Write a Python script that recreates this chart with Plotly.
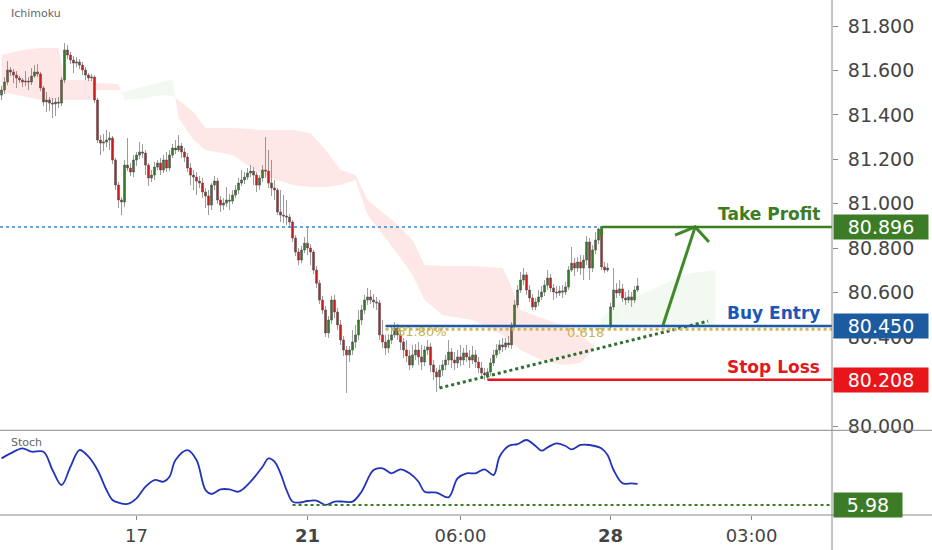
import plotly.graph_objects as go

# one candle per bar, oldest first
opens = [81.489, 81.512, 81.548, 81.602, 81.593, 81.579, 81.566, 81.557, 81.548, 81.552,
         81.548, 81.575, 81.593, 81.584, 81.521, 81.458, 81.467, 81.453, 81.449, 81.458,
         81.453, 81.557, 81.692, 81.669, 81.647, 81.633, 81.638, 81.624, 81.602, 81.579,
         81.566, 81.570, 81.467, 81.287, 81.273, 81.278, 81.287, 81.296, 81.197, 81.084,
         81.017, 81.008, 81.174, 81.161, 81.143, 81.197, 81.219, 81.233, 81.228, 81.174,
         81.116, 81.129, 81.165, 81.183, 81.152, 81.197, 81.161, 81.219, 81.251, 81.242,
         81.260, 81.233, 81.210, 81.161, 81.129, 81.120, 81.102, 81.093, 81.053, 81.035,
         80.994, 81.084, 81.102, 81.017, 80.994, 81.003, 81.017, 81.012, 81.039, 81.062,
         81.093, 81.107, 81.120, 81.138, 81.147, 81.129, 81.084, 81.116, 81.152, 81.147,
         81.093, 81.071, 81.062, 80.963, 80.949, 80.945, 80.940, 80.918, 80.846, 80.783,
         80.747, 80.792, 80.823, 80.801, 80.783, 80.702, 80.643, 80.567, 80.522, 80.419,
         80.477, 80.567, 80.513, 80.455, 80.387, 80.342, 80.320, 80.342, 80.378, 80.410,
         80.477, 80.522, 80.567, 80.581, 80.567, 80.558, 80.554, 80.410, 80.378, 80.351,
         80.387, 80.410, 80.441, 80.410, 80.378, 80.342, 80.315, 80.275, 80.320, 80.342,
         80.311, 80.288, 80.342, 80.356, 80.275, 80.243, 80.221, 80.252, 80.275, 80.297,
         80.333, 80.297, 80.284, 80.311, 80.297, 80.329, 80.311, 80.297, 80.320, 80.288,
         80.261, 80.239, 80.230, 80.243, 80.284, 80.320, 80.342, 80.365, 80.356, 80.374,
         80.365, 80.455, 80.545, 80.612, 80.657, 80.680, 80.612, 80.576, 80.536, 80.558,
         80.581, 80.603, 80.634, 80.666, 80.621, 80.603, 80.599, 80.608, 80.603, 80.626,
         80.702, 80.733, 80.711, 80.738, 80.711, 80.747, 80.828, 80.711, 80.792, 80.837,
         80.886, 80.716, 80.702, 80.446, 80.536, 80.612, 80.599, 80.617, 80.576, 80.567,
         80.581, 80.567, 80.612]
highs = [81.530, 81.570, 81.642, 81.615, 81.606, 81.597, 81.575, 81.566, 81.597, 81.570,
         81.611, 81.624, 81.629, 81.593, 81.530, 81.503, 81.480, 81.476, 81.476, 81.480,
         81.570, 81.723, 81.714, 81.683, 81.665, 81.660, 81.651, 81.638, 81.615, 81.588,
         81.584, 81.579, 81.476, 81.309, 81.314, 81.332, 81.323, 81.305, 81.206, 81.098,
         81.030, 81.197, 81.296, 81.183, 81.219, 81.233, 81.278, 81.269, 81.242, 81.183,
         81.152, 81.188, 81.197, 81.206, 81.219, 81.233, 81.242, 81.269, 81.287, 81.309,
         81.273, 81.251, 81.228, 81.183, 81.152, 81.143, 81.125, 81.116, 81.071, 81.062,
         81.093, 81.125, 81.116, 81.035, 81.026, 81.075, 81.044, 81.062, 81.084, 81.116,
         81.152, 81.143, 81.161, 81.174, 81.165, 81.143, 81.129, 81.174, 81.300, 81.242,
         81.197, 81.107, 81.071, 81.062, 81.039, 81.017, 80.954, 80.927, 80.859, 80.801,
         80.810, 80.850, 80.895, 80.819, 80.792, 80.720, 80.657, 80.585, 80.540, 80.495,
         80.585, 80.590, 80.531, 80.477, 80.405, 80.360, 80.360, 80.432, 80.455, 80.522,
         80.545, 80.590, 80.621, 80.612, 80.594, 80.581, 80.567, 80.477, 80.410, 80.414,
         80.450, 80.468, 80.459, 80.432, 80.396, 80.387, 80.342, 80.365, 80.369, 80.378,
         80.365, 80.360, 80.387, 80.374, 80.297, 80.261, 80.275, 80.297, 80.320, 80.387,
         80.351, 80.333, 80.342, 80.365, 80.351, 80.365, 80.342, 80.360, 80.342, 80.311,
         80.288, 80.261, 80.261, 80.306, 80.342, 80.369, 80.387, 80.396, 80.396, 80.405,
         80.468, 80.567, 80.634, 80.693, 80.711, 80.693, 80.634, 80.594, 80.576, 80.612,
         80.630, 80.657, 80.702, 80.684, 80.639, 80.630, 80.630, 80.634, 80.648, 80.720,
         80.806, 80.756, 80.760, 80.769, 80.769, 80.855, 80.846, 80.814, 80.873, 80.892,
         80.896, 80.738, 80.733, 80.554, 80.711, 80.643, 80.657, 80.639, 80.603, 80.612,
         80.603, 80.630, 80.666]
lows = [81.467, 81.494, 81.534, 81.575, 81.543, 81.521, 81.543, 81.525, 81.530, 81.512,
        81.534, 81.566, 81.570, 81.507, 81.440, 81.413, 81.417, 81.386, 81.395, 81.431,
        81.440, 81.543, 81.651, 81.629, 81.588, 81.615, 81.606, 81.579, 81.557, 81.552,
        81.552, 81.453, 81.273, 81.219, 81.237, 81.255, 81.242, 81.179, 81.062, 80.981,
        80.949, 80.985, 81.147, 81.125, 81.120, 81.170, 81.201, 81.206, 81.129, 81.080,
        81.098, 81.107, 81.152, 81.129, 81.138, 81.143, 81.147, 81.206, 81.224, 81.233,
        81.206, 81.188, 81.143, 81.084, 81.062, 81.039, 81.071, 81.026, 80.981, 80.949,
        80.972, 81.062, 80.999, 80.963, 80.972, 80.985, 80.972, 80.999, 81.026, 81.044,
        81.080, 81.089, 81.107, 81.120, 81.084, 81.053, 81.062, 81.098, 81.116, 81.071,
        81.035, 81.017, 80.949, 80.918, 80.913, 80.904, 80.891, 80.828, 80.765, 80.724,
        80.733, 80.778, 80.769, 80.724, 80.684, 80.621, 80.549, 80.504, 80.401, 80.396,
        80.459, 80.486, 80.432, 80.365, 80.315, 80.149, 80.288, 80.320, 80.351, 80.387,
        80.455, 80.504, 80.545, 80.549, 80.531, 80.522, 80.387, 80.351, 80.320, 80.329,
        80.369, 80.396, 80.387, 80.342, 80.306, 80.288, 80.252, 80.261, 80.297, 80.275,
        80.252, 80.270, 80.320, 80.243, 80.207, 80.153, 80.171, 80.225, 80.252, 80.275,
        80.261, 80.252, 80.261, 80.270, 80.275, 80.288, 80.261, 80.279, 80.261, 80.239,
        80.216, 80.207, 80.207, 80.225, 80.270, 80.306, 80.324, 80.333, 80.342, 80.351,
        80.346, 80.441, 80.531, 80.599, 80.634, 80.590, 80.558, 80.522, 80.522, 80.540,
        80.567, 80.585, 80.612, 80.603, 80.567, 80.576, 80.585, 80.576, 80.590, 80.612,
        80.693, 80.675, 80.693, 80.680, 80.657, 80.724, 80.657, 80.693, 80.774, 80.819,
        80.702, 80.689, 80.693, 80.432, 80.522, 80.576, 80.585, 80.558, 80.545, 80.554,
        80.536, 80.554, 80.603]
closes = [81.512, 81.548, 81.602, 81.593, 81.579, 81.566, 81.557, 81.548, 81.552, 81.548,
          81.575, 81.593, 81.584, 81.521, 81.458, 81.467, 81.453, 81.449, 81.458, 81.453,
          81.557, 81.692, 81.669, 81.647, 81.633, 81.638, 81.624, 81.602, 81.579, 81.566,
          81.570, 81.467, 81.287, 81.273, 81.278, 81.287, 81.296, 81.197, 81.084, 81.017,
          81.008, 81.174, 81.161, 81.143, 81.197, 81.219, 81.233, 81.228, 81.174, 81.116,
          81.129, 81.165, 81.183, 81.152, 81.197, 81.161, 81.219, 81.251, 81.242, 81.260,
          81.233, 81.210, 81.161, 81.129, 81.120, 81.102, 81.093, 81.053, 81.035, 80.994,
          81.084, 81.102, 81.017, 80.994, 81.003, 81.017, 81.012, 81.039, 81.062, 81.093,
          81.107, 81.120, 81.138, 81.147, 81.129, 81.084, 81.116, 81.152, 81.147, 81.093,
          81.071, 81.062, 80.963, 80.949, 80.945, 80.940, 80.918, 80.846, 80.783, 80.747,
          80.792, 80.823, 80.801, 80.783, 80.702, 80.643, 80.567, 80.522, 80.419, 80.477,
          80.567, 80.513, 80.455, 80.387, 80.342, 80.320, 80.342, 80.378, 80.410, 80.477,
          80.522, 80.567, 80.581, 80.567, 80.558, 80.554, 80.410, 80.378, 80.351, 80.387,
          80.410, 80.441, 80.410, 80.378, 80.342, 80.315, 80.275, 80.320, 80.342, 80.311,
          80.288, 80.342, 80.356, 80.275, 80.243, 80.221, 80.252, 80.275, 80.297, 80.333,
          80.297, 80.284, 80.311, 80.297, 80.329, 80.311, 80.297, 80.320, 80.288, 80.261,
          80.239, 80.230, 80.243, 80.284, 80.320, 80.342, 80.365, 80.356, 80.374, 80.365,
          80.455, 80.545, 80.612, 80.657, 80.680, 80.612, 80.576, 80.536, 80.558, 80.581,
          80.603, 80.634, 80.666, 80.621, 80.603, 80.599, 80.608, 80.603, 80.626, 80.702,
          80.733, 80.711, 80.738, 80.711, 80.747, 80.828, 80.711, 80.792, 80.837, 80.886,
          80.716, 80.702, 80.711, 80.536, 80.612, 80.599, 80.617, 80.576, 80.567, 80.581,
          80.567, 80.612, 80.630]

# ichimoku cloud (bar position, senkou span A, senkou span B)
kumo_x = [0, 7, 13, 19, 21, 30, 31, 39, 41, 48, 53, 57, 59, 64, 68, 77, 87, 97, 103, 108,
          113, 118, 122, 131, 137, 141, 147, 157, 167, 169, 173, 180, 187, 193, 197, 200, 205,
          213, 220, 227, 233, 238]
span_a = [81.503, 81.485, 81.467, 81.467, 81.467, 81.467, 81.512, 81.512, 81.503, 81.530,
          81.545, 81.560, 81.386, 81.287, 81.242, 81.219, 81.129, 81.084, 81.075, 81.075,
          81.084, 81.107, 80.950, 80.792, 80.680, 80.567, 80.500, 80.477, 80.410, 80.387,
          80.342, 80.297, 80.275, 80.284, 80.342, 80.486, 80.545, 80.590, 80.634, 80.680,
          80.693, 80.702]
span_b = [81.669, 81.692, 81.701, 81.701, 81.557, 81.557, 81.543, 81.539, 81.467, 81.476,
          81.489, 81.485, 81.467, 81.413, 81.341, 81.341, 81.332, 81.332, 81.319, 81.242,
          81.152, 81.129, 81.017, 80.918, 80.837, 80.725, 80.720, 80.720, 80.711, 80.657,
          80.522, 80.486, 80.455, 80.410, 80.365, 80.446, 80.446, 80.446, 80.446, 80.446,
          80.446, 80.446]

# stochastic (bar position, %K)
stoch_x = [0, 3, 7, 10, 14, 17, 20, 23, 26, 29, 32, 35, 37, 39, 42, 45, 48, 51, 54, 56,
           58, 62, 65, 68, 70, 73, 76, 79, 83, 87, 89, 91, 93, 95, 97, 99, 102, 105, 108,
           111, 114, 117, 120, 124, 127, 130, 133, 136, 139, 141, 145, 149, 152, 155, 158,
           161, 164, 166, 169, 172, 175, 178, 180, 182, 185, 188, 190, 193, 196, 200, 202,
           204, 207, 210, 212]
stoch_k = [70.5, 77.4, 84.3, 79.7, 79.7, 54.4, 33.6, 59.0, 82.0, 72.8, 54.4, 26.7, 12.9,
           9.2, 7.4, 15.2, 31.3, 40.5, 38.2, 45.1, 68.2, 82.0, 68.2, 26.7, 21.2, 27.6, 27.6,
           24.4, 38.2, 59.0, 70.5, 65.9, 49.8, 26.7, 10.6, 9.2, 11.5, 11.9, 6.0, 10.6, 10.6,
           10.6, 24.4, 54.4, 56.7, 49.8, 55.3, 49.8, 38.2, 24.4, 23.1, 16.6, 42.8, 49.8, 49.8,
           55.3, 47.4, 72.8, 87.6, 90.3, 95.9, 87.6, 81.1, 85.7, 91.3, 87.6, 83.0, 89.0, 89.0,
           84.3, 75.1, 54.4, 36.0, 36.0, 35.1]

# axis ticks
tick_bars = [45, 102, 153, 203, 250]
tick_text = ['17', '<b>21</b>', '06:00', '<b>28</b>', '03:00']
price_ticks = [80.0, 80.2, 80.4, 80.6, 80.8, 81.0, 81.2, 81.4, 81.6, 81.8]

# trade setup
take_profit = 80.896
buy_entry = 80.450
stop_loss = 80.208
fib_level = 80.436
stoch_low = 5.98
tp_start, buy_start, sl_start, stoch_line_start = 200, 128, 162, 97
trend_x = [146, 235.5]
trend_y = [80.171, 80.472]
arrow_x = [220.5, 231.2]
arrow_y = [80.455, 80.896]
head_x = [224.5, 231.2, 235.8]
head_y = [80.859, 80.896, 80.828]

x_range = [-0.5, 276.8]
FONT = 'DejaVu Sans'
GREEN = '#3b7d23'
BLUE = '#1e5aa8'
RED = '#e3171c'

fig = go.Figure()

# cloud: split into bullish / bearish pieces, joined at crossings
pieces = []
prev = None
for x, a, b in zip(kumo_x, span_a, span_b):
    bull = a > b
    if prev is not None and bull != prev[3]:
        x0, a0, b0, _ = prev
        t = (b0 - a0) / ((a - a0) - (b - b0))
        cx, cy = x0 + t * (x - x0), a0 + t * (a - a0)
        pieces[-1][1].append((cx, cy, cy))
        pieces.append((bull, [(cx, cy, cy)]))
    elif prev is None:
        pieces.append((bull, []))
    pieces[-1][1].append((x, a, b))
    prev = (x, a, b, bull)

for bull, pts in pieces:
    xs = [p[0] for p in pts]
    top = [max(p[1], p[2]) for p in pts]
    bot = [min(p[1], p[2]) for p in pts]
    fig.add_trace(go.Scatter(
        x=xs + xs[::-1], y=top + bot[::-1], fill='toself', mode='lines',
        line=dict(width=0),
        fillcolor='rgba(76,175,80,0.08)' if bull else 'rgba(244,67,54,0.12)',
        hoverinfo='skip', xaxis='x', yaxis='y'))

bars = list(range(len(closes)))
fig.add_trace(go.Candlestick(
    x=bars, open=opens, high=highs, low=lows, close=closes,
    increasing=dict(fillcolor='#357a28', line=dict(color='#555555', width=0.6)),
    decreasing=dict(fillcolor='#d11a1a', line=dict(color='#555555', width=0.6)),
    xaxis='x', yaxis='y'))

# trendline and arrow
fig.add_trace(go.Scatter(x=trend_x, y=trend_y, mode='lines',
                         line=dict(color='#2e6e30', width=3, dash='dot'), xaxis='x', yaxis='y'))
fig.add_trace(go.Scatter(x=arrow_x, y=arrow_y, mode='lines',
                         line=dict(color='#3e8a28', width=3), xaxis='x', yaxis='y'))
fig.add_trace(go.Scatter(x=head_x, y=head_y, mode='lines',
                         line=dict(color='#3e8a28', width=3), xaxis='x', yaxis='y'))

# stochastic
fig.add_trace(go.Scatter(x=stoch_x, y=stoch_k, mode='lines', line_shape='spline',
                         line=dict(color='#2233bb', width=1.8), xaxis='x2', yaxis='y2'))

# horizontal levels
fig.add_shape(type='line', xref='paper', yref='y', x0=0, x1=1, y0=take_profit, y1=take_profit,
              line=dict(color='#3a88d6', width=1.5, dash='dot'))
fig.add_shape(type='line', xref='x', yref='y', x0=tp_start, x1=x_range[1], y0=take_profit,
              y1=take_profit, line=dict(color=GREEN, width=2.5))
fig.add_shape(type='line', xref='x', yref='y', x0=tp_start, x1=tp_start, y0=take_profit - 0.04,
              y1=take_profit, line=dict(color=GREEN, width=2.5))
fig.add_shape(type='line', xref='x', yref='y', x0=buy_start, x1=x_range[1], y0=fib_level,
              y1=fib_level, line=dict(color='#cdb85c', width=3, dash='dot'))
fig.add_shape(type='line', xref='x', yref='y', x0=buy_start, x1=x_range[1], y0=buy_entry,
              y1=buy_entry, line=dict(color=BLUE, width=2.5))
fig.add_shape(type='line', xref='x', yref='y', x0=sl_start, x1=x_range[1], y0=stop_loss,
              y1=stop_loss, line=dict(color=RED, width=2.5))
fig.add_shape(type='line', xref='x2', yref='y2', x0=stoch_line_start, x1=x_range[1],
              y0=stoch_low, y1=stoch_low, line=dict(color='#3a7d23', width=2, dash='dot'))

# frame lines
fig.add_shape(type='line', xref='paper', yref='paper', x0=0, x1=1.13, y0=0.1645, y1=0.1645,
              line=dict(color='#8a8a8a', width=1))
fig.add_shape(type='line', xref='paper', yref='paper', x0=0, x1=1.13, y0=0, y1=0,
              line=dict(color='#8a8a8a', width=1))
fig.add_shape(type='line', xref='paper', yref='paper', x0=1, x1=1, y0=-0.07, y1=1,
              line=dict(color='#8a8a8a', width=1))

# level labels on the chart
for text, lvl, col in [('Take Profit', take_profit, GREEN), ('Buy Entry', buy_entry, '#1b56b8'),
                       ('Stop Loss', stop_loss, RED)]:
    fig.add_annotation(x=273.5, y=lvl, xref='x', yref='y', xanchor='right', yanchor='bottom',
                       text='<b>%s</b>' % text, showarrow=False, yshift=1,
                       font=dict(family=FONT, size=17, color=col))

fig.add_annotation(x=131, y=fib_level, xref='x', yref='y', xanchor='left', yanchor='middle',
                   text='61.80%', showarrow=False, yshift=-2,
                   font=dict(family=FONT, size=13, color='#c9b24e'))
fig.add_annotation(x=201.5, y=fib_level, xref='x', yref='y', xanchor='right', yanchor='middle',
                   text='0.618', showarrow=False, yshift=-3,
                   font=dict(family=FONT, size=13, color='#c9b24e'))

# price tags on the axis
for lvl, col, yref, w, txt in [(take_profit, '#3d7c26', 'y', 92, '%.3f' % take_profit),
                               (buy_entry, '#1c5b9f', 'y', 92, '%.3f' % buy_entry),
                               (stop_loss, '#e8151b', 'y', 92, '%.3f' % stop_loss),
                               (stoch_low, '#3d7c26', 'y2', 66, '%.2f' % stoch_low)]:
    fig.add_annotation(x=1, y=lvl, xref='paper', yref=yref, xanchor='left', yanchor='middle',
                       text=txt, showarrow=False, bgcolor=col, width=w, height=22,
                       borderpad=1, xshift=1, font=dict(family=FONT, size=19, color='white'))

fig.add_annotation(x=0.011, y=0.973, xref='paper', yref='paper', xanchor='left',
                   yanchor='middle', text='Ichimoku', showarrow=False,
                   font=dict(family=FONT, size=11, color='#666666'))
fig.add_annotation(x=0.011, y=0.14, xref='paper', yref='paper', xanchor='left',
                   yanchor='middle', text='Stoch', showarrow=False,
                   font=dict(family=FONT, size=11, color='#666666'))

fig.update_layout(
    width=932, height=550,
    margin=dict(l=0, r=100, t=0, b=35),
    paper_bgcolor='white', plot_bgcolor='white',
    showlegend=False, boxgap=0.05,
    font=dict(family=FONT, color='#444444'),
    xaxis=dict(domain=[0, 1], anchor='y', range=x_range, showticklabels=False,
               showgrid=False, zeroline=False, rangeslider=dict(visible=False)),
    xaxis2=dict(domain=[0, 1], anchor='y2', range=x_range, tickvals=tick_bars,
                ticktext=tick_text, ticks='outside', ticklen=4, tickcolor='#8a8a8a',
                showgrid=False, zeroline=False, tickfont=dict(size=18, color='#444444')),
    yaxis=dict(domain=[0.165, 1], anchor='x', side='right', range=[79.982, 81.917],
               tickvals=price_ticks, tickformat='.3f', ticks='outside', ticklen=5,
               ticklabelstandoff=6, tickcolor='#8a8a8a', showgrid=False, zeroline=False,
               tickfont=dict(size=19, color='#444444')),
    yaxis2=dict(domain=[0, 0.163], anchor='x2', side='right', range=[-7.9, 108.3],
                showticklabels=False, showgrid=False, zeroline=False),
)

fig.write_html('out.html', config={'displayModeBar': False},
               post_script="document.body.style.margin='0';")
